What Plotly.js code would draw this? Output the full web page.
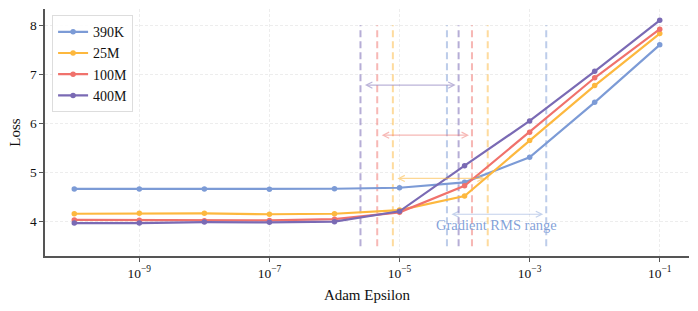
<!DOCTYPE html>
<html>
<head>
<meta charset="utf-8">
<script src="https://cdn.plot.ly/plotly-3.0.1.min.js"></script>
<style>html,body{margin:0;padding:0;background:#fff;}#chart{width:698px;height:311px;}</style>
</head>
<body>
<div id="chart"></div>
<script>
const epsilons = [1e-10, 1e-9, 1e-8, 1e-7, 1e-6, 1e-5, 1e-4, 1e-3, 1e-2, 1e-1];
const seriesNames = ['390K', '25M', '100M', '400M'];
const loss390K = [4.665, 4.665, 4.665, 4.66, 4.67, 4.69, 4.80, 5.31, 6.43, 7.60];
const loss25M  = [4.16, 4.17, 4.17, 4.15, 4.16, 4.235, 4.52, 5.65, 6.77, 7.83];
const loss100M = [4.035, 4.03, 4.02, 4.025, 4.05, 4.19, 4.73, 5.82, 6.93, 7.92];
const loss400M = [3.97, 3.97, 3.99, 3.985, 4.00, 4.21, 5.14, 6.05, 7.06, 8.10];
// gradient RMS ranges [low, high] per model
const rmsLow  = [5.36e-5, 7.9e-6, 4.54e-6, 2.51e-6];
const rmsHigh = [1.8e-3, 2.27e-4, 1.3e-4, 8.1e-5];
const arrowY  = [4.15, 4.88, 5.76, 6.78];
const vlineY  = [3.5, 8.0];
const rangeLabel = 'Gradient RMS range';
const xTickVals = [1e-9, 1e-7, 1e-5, 1e-3, 1e-1];
const xTickText = ['10<sup>−9</sup>', '10<sup>−7</sup>', '10<sup>−5</sup>', '10<sup>−3</sup>', '10<sup>−1</sup>'];
const yTickVals = [4, 5, 6, 7, 8];

const colors = ['rgb(124,155,214)', 'rgb(253,184,62)', 'rgb(240,114,108)', 'rgb(122,106,180)'];
const fadedDash = ['rgba(124,155,214,0.5)', 'rgba(253,184,62,0.5)', 'rgba(240,114,108,0.5)', 'rgba(122,106,180,0.55)'];
const fadedArrow = ['rgba(124,155,214,0.45)', 'rgba(253,184,62,0.55)', 'rgba(240,114,108,0.5)', 'rgba(122,106,180,0.5)'];
const allLoss = [loss390K, loss25M, loss100M, loss400M];
const FONT = 'Liberation Serif, Times New Roman, serif';

const traces = [];
// vertical dashed lines (behind)
for (let i = 0; i < 4; i++) {
  [rmsLow[i], rmsHigh[i]].forEach(v => {
    traces.push({x: [v, v], y: vlineY, mode: 'lines', showlegend: false, hoverinfo: 'skip',
      line: {color: fadedDash[i], width: 2, dash: '7px,4px'}});
  });
}
for (let i = 0; i < 4; i++) {
  traces.push({x: epsilons, y: allLoss[i], name: seriesNames[i], mode: 'lines+markers',
    line: {color: colors[i], width: 2.2}, marker: {color: colors[i], size: 5.5}});
}

const annotations = [];
for (let i = 0; i < 4; i++) {
  annotations.push({x: Math.log10(rmsHigh[i]), y: arrowY[i], ax: Math.log10(rmsLow[i]), ay: arrowY[i],
    xref: 'x', yref: 'y', axref: 'x', ayref: 'y', text: '', showarrow: true,
    arrowside: 'end+start', arrowhead: 5, arrowsize: 1, arrowwidth: 1.2,
    arrowcolor: fadedArrow[i], standoff: 3, startstandoff: 3});
}
annotations.push({x: Math.log10(Math.sqrt(rmsLow[0] * rmsHigh[0])), y: 3.93, xref: 'x', yref: 'y',
  text: rangeLabel, showarrow: false, font: {family: FONT, size: 14.5, color: 'rgba(124,155,214,0.95)'}});

const layout = {
  width: 698, height: 311,
  margin: {l: 45, r: 9, t: 9, b: 55},
  paper_bgcolor: '#fff', plot_bgcolor: '#fff',
  font: {family: FONT, size: 13, color: '#111'},
  xaxis: {type: 'log', range: [-10.45, -0.55], tickvals: xTickVals, ticktext: xTickText,
    showline: true, linecolor: '#555', linewidth: 1.6, ticks: 'outside', ticklen: 4, tickwidth: 1, tickcolor: '#555',
    showgrid: true, gridcolor: '#e8e8e8', gridwidth: 0.8, griddash: '3px,2px', zeroline: false,
    title: {text: 'Adam Epsilon', font: {family: FONT, size: 15, color: '#111'}, standoff: 10},
    tickfont: {family: FONT, size: 13.5, color: '#111'}},
  yaxis: {range: [3.3, 8.33], tickvals: yTickVals,
    showline: true, linecolor: '#555', linewidth: 1.6, ticks: 'outside', ticklen: 4, tickwidth: 1, tickcolor: '#555',
    showgrid: true, gridcolor: '#e8e8e8', gridwidth: 0.8, griddash: '3px,2px', zeroline: false,
    title: {text: 'Loss', font: {family: FONT, size: 15, color: '#111'}, standoff: 6},
    tickfont: {family: FONT, size: 13.5, color: '#111'}},
  legend: {x: 0.011, y: 0.975, xanchor: 'left', yanchor: 'top', bgcolor: 'rgba(255,255,255,0.85)',
    bordercolor: '#ddd', borderwidth: 1, font: {family: FONT, size: 14, color: '#111'}, tracegroupgap: 0},
  annotations: annotations,
  showlegend: true
};
Plotly.newPlot('chart', traces, layout, {displayModeBar: false, staticPlot: true});
</script>
</body>
</html>
